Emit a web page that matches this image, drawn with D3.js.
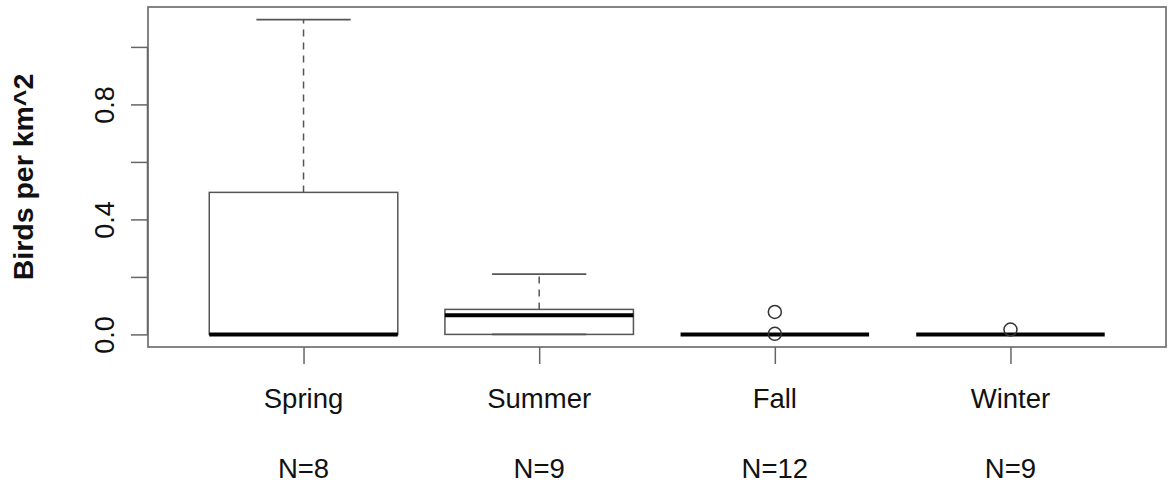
<!DOCTYPE html>
<html>
<head>
<meta charset="utf-8">
<script src="https://cdn.jsdelivr.net/npm/d3@7"></script>
<style>
  body { margin: 0; background: #fff; }
  svg text { font-family: "Liberation Sans", Arial, sans-serif; fill: #111; }
</style>
</head>
<body>
<div id="chart"></div>
<script>
// boxplot statistics
const seasons = ["Spring", "Summer", "Fall", "Winter"];
const counts = [8, 9, 12, 9];
const whiskerLow = [0, 0, 0, 0];
const q1 = [0, 0, 0, 0];
const medians = [0, 0.067, 0, 0];
const q3 = [0.494, 0.087, 0, 0];
const whiskerHigh = [1.095, 0.21, 0, 0];
const outliers = [[], [], [0.078, 0.002], [0.017]];
const yTicks = [0, 0.2, 0.4, 0.6, 0.8, 1.0];
const yLabelled = [0, 0.4, 0.8];

const width = 1168, height = 489;
const plot = { left: 148, right: 1166, top: 7, bottom: 347 };

const boxes = seasons.map((s, i) => ({
    season: s, pos: i + 1, n: counts[i],
    lo: whiskerLow[i], q1: q1[i], med: medians[i], q3: q3[i], hi: whiskerHigh[i],
    out: outliers[i]
}));

const svg = d3.select("#chart").append("svg")
    .attr("width", width)
    .attr("height", height);

// R style 4% padding on both axes
const yMax = d3.max(boxes, d => Math.max(d.hi, d3.max(d.out) || 0));
const yPad = yMax * 0.04;
const y = d3.scaleLinear()
    .domain([-yPad, yMax + yPad])
    .range([plot.bottom, plot.top]);

const xPad = (seasons.length) * 0.04;
const x = d3.scaleLinear()
    .domain([0.5 - xPad, seasons.length + 0.5 + xPad])
    .range([plot.left, plot.right]);

const boxW = 0.8, capW = 0.4;
const lineCol = "#555";

// boxes
const g = svg.append("g");
boxes.forEach(d => {
    const cx = x(d.pos);
    const half = x(d.pos + boxW / 2) - cx;
    const capHalf = x(d.pos + capW / 2) - cx;

    // whiskers (dashed)
    if (d.hi > d.q3) {
        g.append("line")
            .attr("x1", cx).attr("x2", cx)
            .attr("y1", y(d.q3)).attr("y2", y(d.hi))
            .attr("stroke", lineCol).attr("stroke-width", 1.5)
            .attr("stroke-dasharray", "7,6");
    }
    if (d.lo < d.q1) {
        g.append("line")
            .attr("x1", cx).attr("x2", cx)
            .attr("y1", y(d.q1)).attr("y2", y(d.lo))
            .attr("stroke", lineCol).attr("stroke-width", 1.5)
            .attr("stroke-dasharray", "7,6");
    }
    // staples
    [d.lo, d.hi].forEach(v => {
        g.append("line")
            .attr("x1", cx - capHalf).attr("x2", cx + capHalf)
            .attr("y1", y(v)).attr("y2", y(v))
            .attr("stroke", lineCol).attr("stroke-width", 1.8);
    });
    // box
    g.append("rect")
        .attr("x", cx - half)
        .attr("y", y(d.q3))
        .attr("width", half * 2)
        .attr("height", y(d.q1) - y(d.q3))
        .attr("fill", "none")
        .attr("stroke", lineCol)
        .attr("stroke-width", 1.5);
    // median
    g.append("line")
        .attr("x1", cx - half).attr("x2", cx + half)
        .attr("y1", y(d.med)).attr("y2", y(d.med))
        .attr("stroke", "#000").attr("stroke-width", 4);
    // outliers
    g.selectAll(null)
        .data(d.out)
        .join("circle")
        .attr("cx", cx)
        .attr("cy", v => y(v))
        .attr("r", 6.5)
        .attr("fill", "none")
        .attr("stroke", "#333")
        .attr("stroke-width", 1.5);
});

// plot frame
svg.append("rect")
    .attr("x", plot.left).attr("y", plot.top)
    .attr("width", plot.right - plot.left)
    .attr("height", plot.bottom - plot.top)
    .attr("fill", "none")
    .attr("stroke", "#777")
    .attr("stroke-width", 1.8);

// y axis
const yAxis = svg.append("g")
    .attr("transform", `translate(${plot.left},0)`)
    .call(d3.axisLeft(y)
        .tickValues(yTicks)
        .tickSize(17)
        .tickFormat(v => yLabelled.includes(v) ? d3.format(".1f")(v) : ""));
yAxis.select(".domain")
    .attr("d", `M-0.5,${y(yTicks[0])}V${y(yTicks[yTicks.length - 1])}`)
    .attr("stroke", "#666").attr("stroke-width", 1.5);
yAxis.selectAll(".tick line").attr("stroke", "#666").attr("stroke-width", 1.5);
yAxis.selectAll(".tick text")
    .attr("x", 0).attr("dy", 0)
    .attr("transform", "translate(-43,0) rotate(-90)")
    .attr("dominant-baseline", "central")
    .attr("text-anchor", "middle")
    .style("font-size", "27px");

// x axis
const xAxis = svg.append("g")
    .attr("transform", `translate(0,${plot.bottom})`)
    .call(d3.axisBottom(x)
        .tickValues(boxes.map(d => d.pos))
        .tickSize(17)
        .tickFormat(""));
xAxis.select(".domain").remove();
xAxis.selectAll(".tick line").attr("stroke", "#666").attr("stroke-width", 1.5);

// category labels and N
svg.append("g").selectAll("text")
    .data(boxes)
    .join("text")
    .attr("x", d => x(d.pos))
    .attr("y", 398)
    .attr("text-anchor", "middle")
    .attr("dominant-baseline", "central")
    .style("font-size", "27.5px")
    .text(d => d.season);

svg.append("g").selectAll("text")
    .data(boxes)
    .join("text")
    .attr("x", d => x(d.pos))
    .attr("y", 468)
    .attr("text-anchor", "middle")
    .attr("dominant-baseline", "central")
    .style("font-size", "27.5px")
    .text(d => "N=" + d.n);

// y title
svg.append("text")
    .attr("transform", `translate(23,${(plot.top + plot.bottom) / 2}) rotate(-90)`)
    .attr("text-anchor", "middle")
    .attr("dominant-baseline", "central")
    .style("font-size", "28.5px")
    .style("font-weight", "bold")
    .text("Birds per km^2");
</script>
</body>
</html>
